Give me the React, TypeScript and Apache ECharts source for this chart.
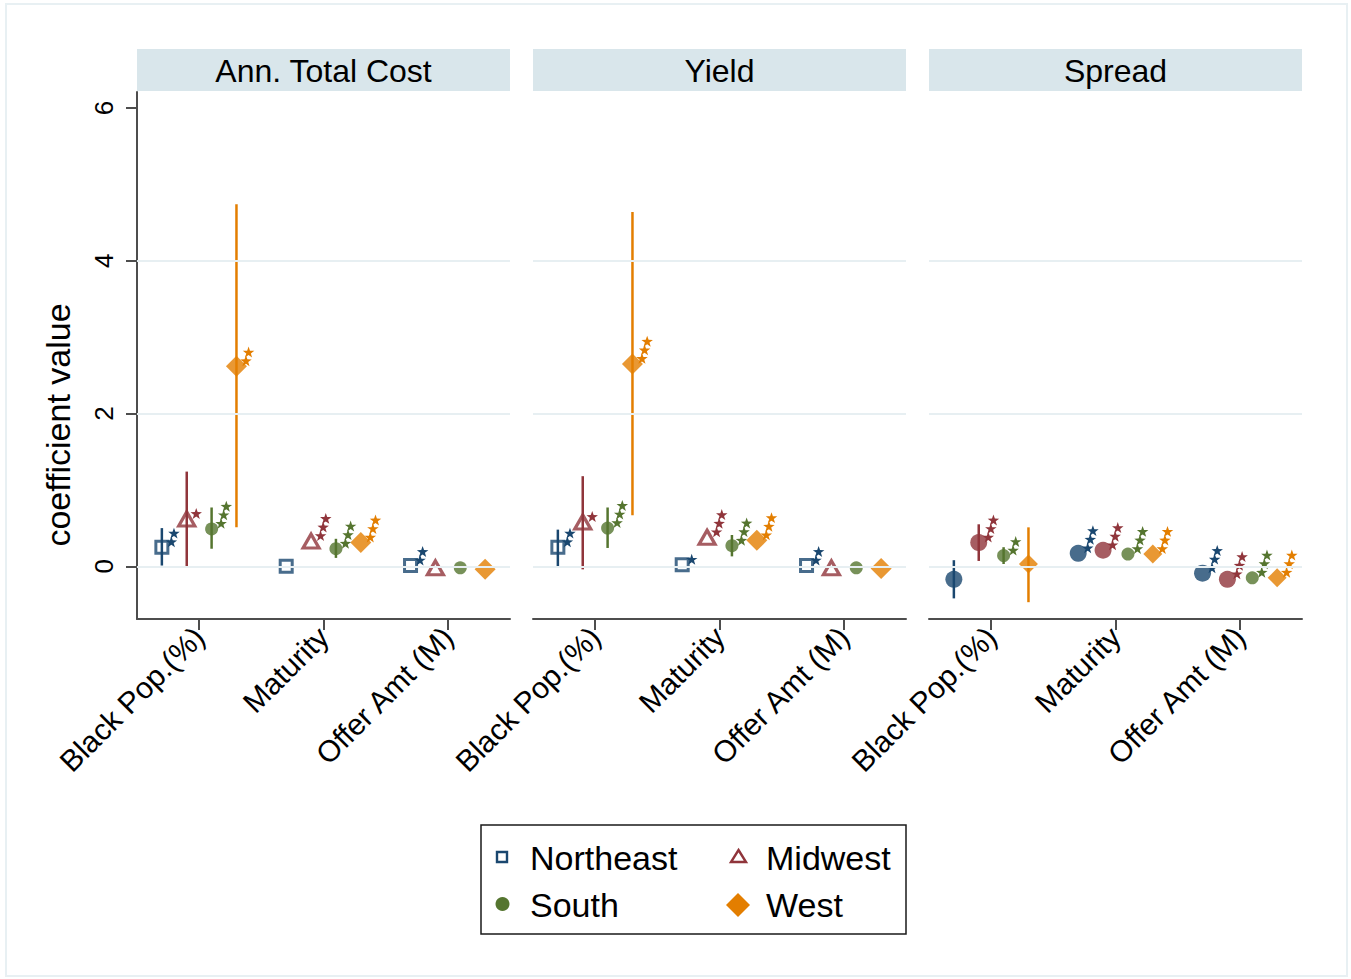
import React, { useEffect, useRef } from "react";
import * as echarts from "echarts";

const variables = ["Black Pop.(%)", "Maturity", "Offer Amt (M)"];
const outcomes = ["Ann. Total Cost", "Yield", "Spread"];
const regions = ["Northeast", "Midwest", "South", "West"];
const regionOffsets = [-0.3, -0.1, 0.1, 0.3];
const yTicks = [0, 2, 4, 6];
const gridTicks = [0, 2, 4];

// rows: Northeast, Midwest, South, West ; columns: variables
const costCoef = [
  [0.25, 0.0, 0.01],
  [0.62, 0.33, -0.02],
  [0.49, 0.23, -0.02],
  [2.62, 0.31, -0.04],
];
const costLow = [
  [0.01, null, null],
  [-0.01, null, null],
  [0.23, 0.11, null],
  [0.51, null, null],
];
const costHigh = [
  [0.5, null, null],
  [1.24, null, null],
  [0.77, 0.36, null],
  [4.74, null, null],
];
const costStars = [
  [2, 0, 2],
  [1, 3, 0],
  [3, 3, 0],
  [2, 3, 0],
];

const yieldCoef = [
  [0.25, 0.02, 0.01],
  [0.58, 0.38, -0.02],
  [0.5, 0.27, -0.02],
  [2.65, 0.34, -0.03],
];
const yieldLow = [
  [0.0, null, null],
  [-0.04, null, null],
  [0.24, 0.13, null],
  [0.67, null, null],
];
const yieldHigh = [
  [0.48, null, null],
  [1.18, null, null],
  [0.77, 0.41, null],
  [4.64, null, null],
];
const yieldStars = [
  [2, 1, 2],
  [1, 3, 0],
  [3, 3, 0],
  [3, 3, 0],
];

const spreadCoef = [
  [-0.17, 0.17, -0.09],
  [0.31, 0.21, -0.17],
  [0.14, 0.16, -0.15],
  [0.03, 0.16, -0.15],
];
const spreadLow = [
  [-0.42, null, null],
  [0.07, null, null],
  [0.03, null, null],
  [-0.47, null, null],
];
const spreadHigh = [
  [0.08, null, null],
  [0.55, null, null],
  [0.25, null, null],
  [0.51, null, null],
];
const spreadStars = [
  [0, 3, 3],
  [3, 3, 3],
  [2, 3, 3],
  [0, 3, 3],
];

const panelCoef = [costCoef, yieldCoef, spreadCoef];
const panelLow = [costLow, yieldLow, spreadLow];
const panelHigh = [costHigh, yieldHigh, spreadHigh];
const panelStars = [costStars, yieldStars, spreadStars];

const colors = ["#1a476f", "#90353b", "#55752f", "#e37e00"];
const FONT = "Liberation Sans, Arial, sans-serif";
const STAR =
  "path://M0,-10L2.35,-3.24L9.51,-3.09L3.8,1.24L5.88,8.09L0,4L-5.88,8.09L-3.8,1.24L-9.51,-3.09L-2.35,-3.24Z";

const panelLefts = [137, 533, 929];
const panelWidth = 373;
const panelTop = 92;
const panelHeight = 527;

function markerStyle(panel: number, r: number) {
  const c = colors[r];
  if (panel < 2) {
    if (r === 0)
      return { symbol: "rect", symbolSize: 12, itemStyle: { color: "rgba(255,255,255,0)", borderColor: c, borderWidth: 3 } };
    if (r === 1)
      return { symbol: "triangle", symbolSize: [16, 14], itemStyle: { color: "rgba(255,255,255,0)", borderColor: c, borderWidth: 3.2 } };
    if (r === 2) return { symbol: "circle", symbolSize: 13, itemStyle: { color: c } };
    return { symbol: "diamond", symbolSize: 21, itemStyle: { color: c } };
  }
  if (r === 0 || r === 1) return { symbol: "circle", symbolSize: 17, itemStyle: { color: c } };
  if (r === 2) return { symbol: "circle", symbolSize: 13, itemStyle: { color: c } };
  return { symbol: "diamond", symbolSize: 19, itemStyle: { color: c } };
}

function buildOption() {
  const grid: any[] = [];
  const xAxis: any[] = [];
  const yAxis: any[] = [];
  const series: any[] = [];
  const graphic: any[] = [];

  graphic.push({
    type: "rect",
    shape: { x: 6, y: 4, width: 1341, height: 972 },
    style: { fill: "none", stroke: "#e8f0f3", lineWidth: 2 },
    silent: true,
  });

  for (let p = 0; p < 3; p++) {
    grid.push({ left: panelLefts[p], top: panelTop, width: panelWidth, height: panelHeight });
    xAxis.push({
      type: "value",
      gridIndex: p,
      min: 0.5,
      max: 3.5,
      axisLine: { show: true, onZero: false, lineStyle: { color: "#4d4d4d", width: 2 } },
      axisTick: { show: true, customValues: [1, 2, 3], length: 11, lineStyle: { color: "#4d4d4d", width: 2 } },
      axisLabel: {
        customValues: [1, 2, 3],
        formatter: (v: number) => variables[Math.round(v) - 1] ?? "",
        rotate: 45,
        fontSize: 30,
        color: "#000",
        fontFamily: FONT,
        margin: 13,
      },
      splitLine: { show: false },
    });
    yAxis.push({
      type: "value",
      gridIndex: p,
      min: -0.69,
      max: 6.21,
      show: p === 0,
      axisLine: { show: true, onZero: false, lineStyle: { color: "#4d4d4d", width: 2 } },
      axisTick: { show: true, customValues: yTicks, length: 11, lineStyle: { color: "#4d4d4d", width: 2 } },
      axisLabel: {
        customValues: yTicks,
        rotate: 90,
        fontSize: 26,
        color: "#000",
        fontFamily: FONT,
        margin: 20,
      },
      splitLine: { show: false },
    });

    // strip header
    graphic.push({
      type: "rect",
      shape: { x: panelLefts[p], y: 49, width: panelWidth, height: 42 },
      style: { fill: "#d9e6eb" },
      silent: true,
    });
    graphic.push({
      type: "text",
      x: panelLefts[p] + panelWidth / 2,
      y: 71,
      style: {
        text: outcomes[p],
        fontSize: 32,
        fontFamily: FONT,
        fill: "#000",
        textAlign: "center",
        textVerticalAlign: "middle",
      },
      silent: true,
    });

    // gridlines
    series.push({
      type: "line",
      xAxisIndex: p,
      yAxisIndex: p,
      data: [[0.5, 0]],
      symbol: "none",
      lineStyle: { opacity: 0 },
      silent: true,
      z: 0,
      markLine: {
        silent: true,
        symbol: ["none", "none"],
        label: { show: false },
        lineStyle: { color: "#e7eff2", width: 2, type: "solid" },
        data: gridTicks.map((t) => ({ yAxis: t })),
      },
    });

    for (let r = 0; r < 4; r++) {
      const off = regionOffsets[r];
      const coef = panelCoef[p][r];
      const lo = panelLow[p][r];
      const hi = panelHigh[p][r];
      const st = panelStars[p][r];
      const color = colors[r];

      const ciData: number[][] = [];
      coef.forEach((_c, v) => {
        if (lo[v] !== null && hi[v] !== null) ciData.push([v + 1 + off, lo[v] as number, hi[v] as number]);
      });
      series.push({
        type: "custom",
        name: regions[r],
        xAxisIndex: p,
        yAxisIndex: p,
        z: 2,
        encode: { x: 0, y: [1, 2] },
        data: ciData,
        renderItem: (_params: any, api: any) => {
          const x = api.value(0);
          const a = api.coord([x, api.value(1)]);
          const b = api.coord([x, api.value(2)]);
          return {
            type: "line",
            shape: { x1: a[0], y1: a[1], x2: b[0], y2: b[1] },
            style: { stroke: color, lineWidth: 2.5 },
          };
        },
      });

      const ms = markerStyle(p, r);
      series.push({
        type: "scatter",
        name: regions[r],
        xAxisIndex: p,
        yAxisIndex: p,
        z: 3,
        ...ms,
        data: coef.map((c, v) => [v + 1 + off, c]),
      });

      const starData: any[] = [];
      coef.forEach((c, v) => {
        for (let k = 0; k < st[v]; k++) {
          starData.push({
            value: [v + 1 + off, c],
            symbolOffset: [9.5 + 2.6 * k, -5.5 - 8.6 * k],
          });
        }
      });
      series.push({
        type: "scatter",
        name: regions[r] + " stars",
        xAxisIndex: p,
        yAxisIndex: p,
        z: 4,
        symbol: STAR,
        symbolSize: 11.5,
        symbolKeepAspect: true,
        itemStyle: { color, opacity: 1 },
        data: starData,
      });
    }
  }

  // y-axis title
  graphic.push({
    type: "text",
    x: 58,
    y: 425,
    rotation: Math.PI / 2,
    style: {
      text: "coefficient value",
      fontSize: 34,
      fontFamily: FONT,
      fill: "#000",
      textAlign: "center",
      textVerticalAlign: "middle",
    },
    silent: true,
  });

  // legend
  graphic.push({
    type: "rect",
    shape: { x: 481, y: 825, width: 425, height: 109 },
    style: { fill: "#fff", stroke: "#1a1a1a", lineWidth: 1.5 },
    silent: true,
  });
  graphic.push({
    type: "rect",
    shape: { x: 497, y: 852, width: 10, height: 10 },
    style: { fill: "none", stroke: colors[0], lineWidth: 2.4 },
    silent: true,
  });
  graphic.push({
    type: "polygon",
    shape: { points: [[738.5, 850], [746, 862], [731, 862]] },
    style: { fill: "none", stroke: colors[1], lineWidth: 2.4 },
    silent: true,
  });
  graphic.push({
    type: "circle",
    shape: { cx: 502.5, cy: 904, r: 7 },
    style: { fill: colors[2] },
    silent: true,
  });
  graphic.push({
    type: "polygon",
    shape: { points: [[738, 893], [750, 905], [738, 917], [726, 905]] },
    style: { fill: colors[3] },
    silent: true,
  });
  const legendTexts = [
    { t: regions[0], x: 530, y: 858 },
    { t: regions[1], x: 766, y: 858 },
    { t: regions[2], x: 530, y: 905 },
    { t: regions[3], x: 766, y: 905 },
  ];
  legendTexts.forEach((lt) =>
    graphic.push({
      type: "text",
      x: lt.x,
      y: lt.y,
      style: {
        text: lt.t,
        fontSize: 34,
        fontFamily: FONT,
        fill: "#000",
        textAlign: "left",
        textVerticalAlign: "middle",
      },
      silent: true,
    })
  );

  return {
    animation: false,
    backgroundColor: "#ffffff",
    textStyle: { fontFamily: FONT },
    grid,
    xAxis,
    yAxis,
    series,
    graphic,
  };
}

export default function App() {
  const ref = useRef<HTMLDivElement>(null);
  useEffect(() => {
    if (!ref.current) return;
    const chart = echarts.init(ref.current, undefined, { renderer: "svg" });
    chart.setOption(buildOption() as any);
    return () => chart.dispose();
  }, []);
  return (
    <div
      ref={ref}
      style={{ position: "fixed", left: 0, top: 0, width: 1351, height: 979 }}
    />
  );
}
